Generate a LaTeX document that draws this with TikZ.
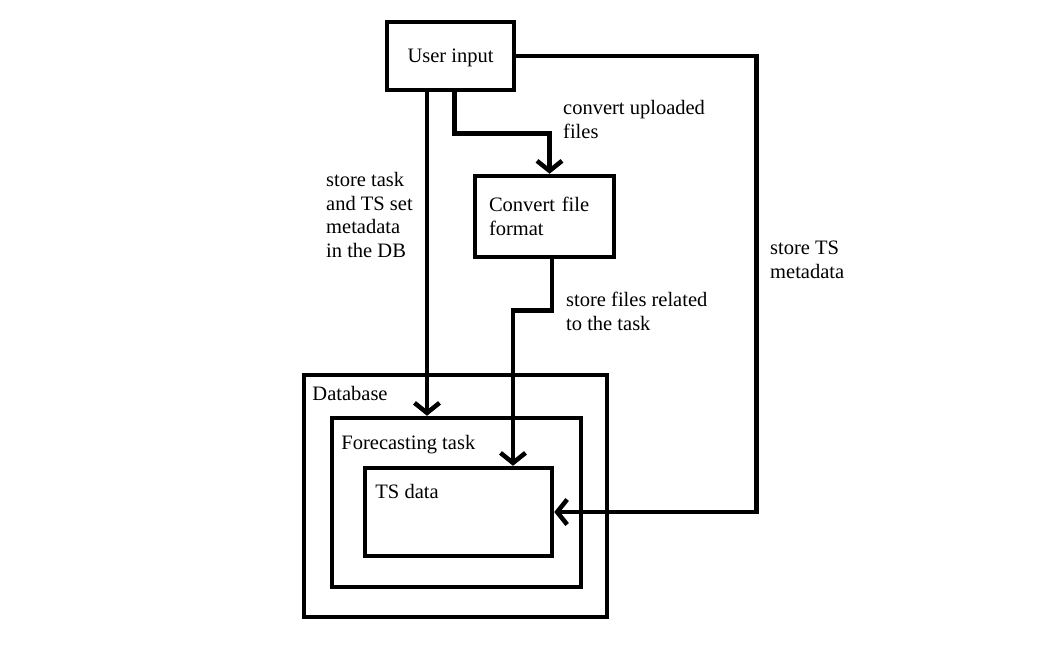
\documentclass[tikz,border=0pt]{standalone}
\usepackage{fontspec}
\setmainfont{Liberation Serif}
\usetikzlibrary{positioning,arrows.meta,calc}

\begin{document}
\begin{tikzpicture}[x=1pt,y=-1pt,
    font=\fontsize{20.5}{23.5}\selectfont,
    box/.style={draw,line width=4.5pt,inner sep=0pt},
    link/.style={line width=4.5pt,-{Straight Barb[length=10pt,width=25pt]}},
    note/.style={anchor=base west,align=left,inner sep=0pt},
    boxlabel/.style={anchor=base west,inner sep=0pt}]
    \useasboundingbox (0,0) rectangle (1061,651);

    % Kaesten
    \node[box,minimum width=127pt,minimum height=68pt,text depth=0pt] (userinput) at (450.5,56) {User input};
    \node[box,minimum width=139pt,minimum height=81pt,text width=111pt,align=left] (convert) at (544.5,216.5) {Convert file\\format};

    % Datenbank
    \node[box,minimum width=303pt,minimum height=242pt,
      label={[boxlabel,xshift=10.5pt,yshift=-28pt]north west:Database}] (database) at (455.5,496) {};
    \node[box,minimum width=249pt,minimum height=169pt,
      label={[boxlabel,xshift=11.5pt,yshift=-34pt]north west:Forecasting task}] (task) at (456.5,502.5) {};
    \node[box,minimum width=187pt,minimum height=88pt,
      label={[boxlabel,xshift=12.5pt,yshift=-33pt]north west:TS data}] (tsdata) at (458.5,512) {};

    % Verbindungen
    \draw[link] ([xshift=-23.5pt]userinput.south) -- ([xshift=-23.5pt]userinput.south |- task.north);
    \draw[link] ([xshift=4pt]userinput.south) -- ++(0,41) -| ([xshift=5pt]convert.north);
    \draw[link] ([xshift=7.5pt]convert.south) -- ++(0,51) -| ([xshift=54.5pt]tsdata.north);
    \draw[link] (userinput.east) -- ++(240,0) |- (tsdata.east);

    % Beschriftungen (Grundlinie der letzten Zeile)
    \node[note] (convertnote) at (563,138) {convert uploaded\\files};
    \node[note] (tasknote) at (326,257) {store task\\and TS set\\metadata\\in the DB};
    \node[note] (filesnote) at (566,330) {store files related\\to the task};
    \node[note] (metanote) at (770,278) {store TS\\metadata};
  \end{tikzpicture}
\end{document}
